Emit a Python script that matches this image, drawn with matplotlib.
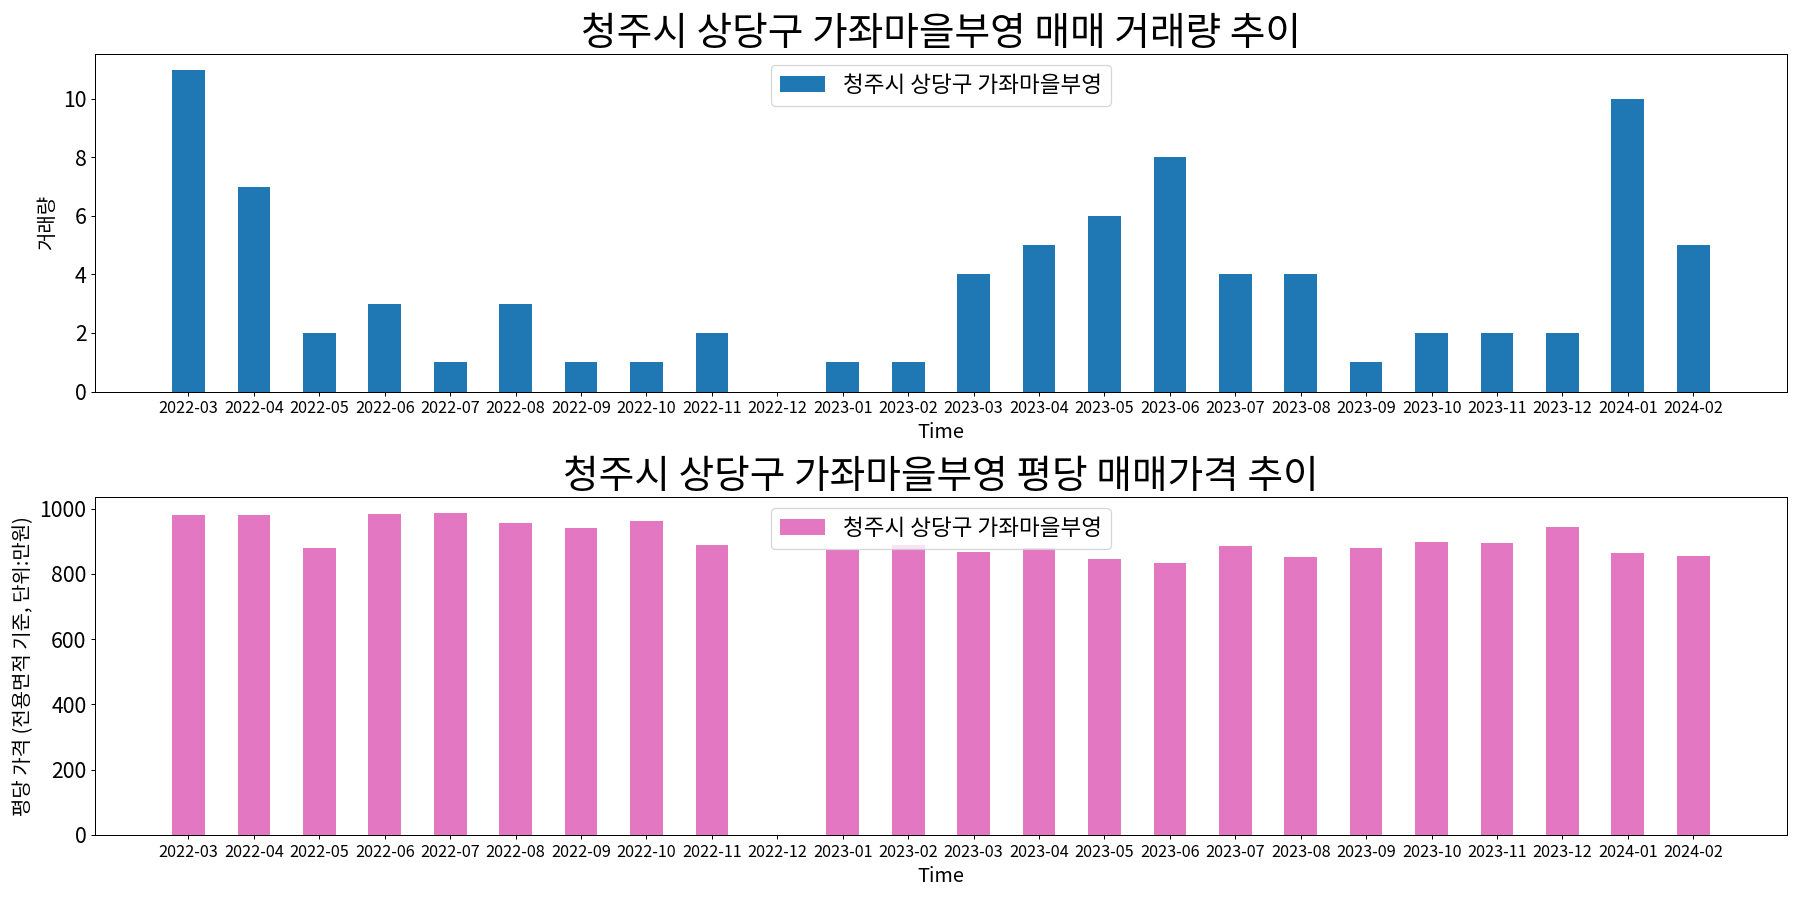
import matplotlib
matplotlib.use("Agg")
import matplotlib.pyplot as plt

plt.rcParams['font.family'] = ['Noto Sans CJK KR', 'DejaVu Sans']
plt.rcParams['axes.unicode_minus'] = False

months = ["2022-03", "2022-04", "2022-05", "2022-06", "2022-07", "2022-08",
          "2022-09", "2022-10", "2022-11", "2022-12", "2023-01", "2023-02",
          "2023-03", "2023-04", "2023-05", "2023-06", "2023-07", "2023-08",
          "2023-09", "2023-10", "2023-11", "2023-12", "2024-01", "2024-02"]
volume = [11, 7, 2, 3, 1, 3, 1, 1, 2, 0, 1, 1,
          4, 5, 6, 8, 4, 4, 1, 2, 2, 2, 10, 5]
# 2022-12 has no trades, so no price bar
price = [980, 980, 879, 984, 987, 956, 940, 962, 888, 0, 873, 888,
         867, 879, 845, 833, 885, 851, 879, 897, 894, 944, 864, 854]

name = "청주시 상당구 가좌마을부영"

fig, (ax1, ax2) = plt.subplots(2, 1, figsize=(20, 10), dpi=90)

ax1.bar(months, volume, width=0.5, color="#1f77b4", label=name)
ax1.set_title(name + " 매매 거래량 추이", fontsize=31)
ax1.set_xlabel("Time", fontsize=16)
ax1.set_ylabel("거래량", fontsize=16)
ax1.tick_params(axis="y", labelsize=17)
ax1.tick_params(axis="x", labelsize=13)
ax1.legend(loc="upper center", fontsize=18)

ax2.bar(months, price, width=0.5, color="#e377c2", label=name)
ax2.set_title(name + " 평당 매매가격 추이", fontsize=31)
ax2.set_xlabel("Time", fontsize=16)
ax2.set_ylabel("평당 가격 (전용면적 기준, 단위:만원)", fontsize=16)
ax2.tick_params(axis="y", labelsize=17)
ax2.tick_params(axis="x", labelsize=13)
ax2.legend(loc="upper center", fontsize=18)

plt.tight_layout()
plt.savefig("out.png")
